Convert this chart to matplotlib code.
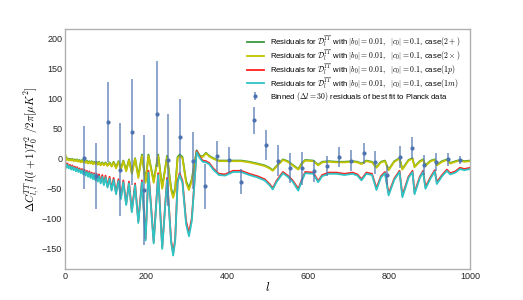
import matplotlib
matplotlib.use('Agg')
import matplotlib.pyplot as plt

plt.rcParams['font.family'] = ['Liberation Sans', 'DejaVu Sans']
plt.rcParams['mathtext.fontset'] = 'cm'

# multipole grid shared by the four model residual curves
ell = [1, 3, 6, 9, 12, 15, 18, 21, 24, 27, 30, 33, 36, 39, 42, 45, 48, 51, 54, 57,
       60, 63, 66, 69, 72, 75, 78, 81, 84, 88, 92, 96, 100, 105, 110, 115, 120, 126,
       132, 138, 144, 151, 158, 165, 173, 181, 190, 199, 206, 219, 230, 240, 252, 262,
       267, 272, 278, 283, 290, 299, 306, 313, 325, 333, 340, 348, 356, 366, 380, 395,
       415, 435, 455, 475, 493, 505, 513, 522, 538, 550, 562, 576, 584, 593, 613, 625,
       635, 651, 670, 690, 710, 722, 732, 744, 758, 769, 780, 790, 799, 813, 826, 833,
       848, 858, 863, 876, 884, 890, 903, 913, 918, 931, 943, 951, 964, 975, 986, 1000]

res_2plus = [4, -2, 0, -3, -1, -3, -1, -4, -2, -4, -2, -5, -3, -6, -3, -6, -4, -7, -4, -8,
             -5, -8, -5, -9, -6, -9, -6, -10, -6, -11, -7, -11, -7, -12, -7, -13, -6, -15,
             -5, -17, -4, -20, -2, -24, 0, -30, 6, -38, 6, -38, 6, -48, 4, -50,
             -62, -50, 2, 6, 2, -38, -50, -35, 13, 4, 3, 9, 4, 0, -4, -4,
             -4, -4, -6, -9, -12, -16, -20, -13, -2, -5, -11, -18, -9, -3, -4, -11,
             -6, -5, -6, -6, -5, -6, -9, -4, -6, -15, -6, -4, -19, -5, 0, -18,
             -3, 0, -14, -5, -2, -12, -4, -2, -11, -5, -2, -8, -5, -3, -5, -4]

res_2times = [5, -3, -1, -4, -2, -4, -2, -5, -3, -5, -3, -6, -4, -7, -4, -7, -5, -8, -5, -9,
              -6, -9, -6, -10, -7, -10, -7, -11, -7, -12, -8, -12, -8, -13, -8, -14, -7, -17,
              -6, -19, -5, -22, -3, -26, -1, -33, 4, -41, 4, -41, 4, -51, 2, -53,
              -66, -53, 0, 4, 0, -41, -53, -38, 11, 3, 2, 8, 3, -1, -5, -5,
              -5, -5, -7, -10, -13, -17, -21, -14, -3, -6, -12, -19, -10, -4, -5, -12,
              -7, -6, -7, -7, -6, -7, -10, -5, -7, -16, -7, -5, -20, -6, -1, -19,
              -4, -1, -15, -6, -3, -13, -5, -3, -12, -6, -3, -9, -6, -4, -6, -5]

res_1p = [-7, -14, -9, -15, -11, -17, -12, -18, -14, -20, -15, -21, -17, -23, -18, -25, -19, -27, -21, -29,
          -22, -31, -24, -33, -25, -35, -26, -37, -27, -40, -28, -43, -29, -47, -31, -52, -33, -58,
          -35, -66, -37, -76, -39, -88, -42, -105, -37, -134, -21, -139, -25, -148, -33, -137,
          -158, -135, -38, -25, -38, -105, -125, -100, 12, 2, -4, -5, -8, -17, -26, -27,
          -21, -21, -26, -30, -35, -43, -50, -38, -23, -29, -37, -51, -37, -23, -24, -38,
          -28, -24, -24, -26, -24, -27, -35, -24, -26, -50, -30, -23, -59, -34, -21, -62,
          -31, -21, -57, -31, -21, -48, -31, -20, -40, -28, -19, -25, -22, -16, -18, -16]

res_1m = [-9, -16, -11, -17, -13, -19, -14, -20, -16, -22, -17, -23, -19, -25, -20, -27, -21, -29, -23, -31,
          -24, -33, -26, -35, -27, -37, -28, -39, -30, -42, -31, -45, -32, -49, -34, -54, -36, -60,
          -38, -68, -40, -78, -42, -90, -45, -108, -40, -137, -24, -142, -28, -151, -36, -140,
          -162, -138, -41, -28, -41, -110, -130, -105, 10, 0, -6, -7, -10, -19, -28, -29,
          -23, -23, -28, -32, -37, -45, -52, -40, -25, -31, -39, -54, -39, -25, -26, -40,
          -30, -26, -26, -28, -26, -29, -37, -26, -28, -53, -32, -25, -62, -36, -23, -65,
          -33, -23, -60, -33, -23, -51, -33, -22, -43, -30, -21, -27, -24, -18, -20, -18]

# binned Planck residuals (delta l = 30)
bin_l = [47, 77, 106, 136, 165, 196, 226, 255, 285, 315, 345, 376, 406, 435, 466, 496,
         526, 556, 586, 616, 646, 677, 706, 737, 766, 796, 827, 857, 886, 915, 946, 975]
bin_res = [1, -30, 60, -19, 43, -53, 74, -3, 36, -4, -47, 4, -3, -39, 63, 22,
           -4, -17, -17, -21, -13, 2, -4, 8, -7, -28, 2, 17, -11, -7, -2, -3]
bin_err = [52, 55, 67, 77, 88, 91, 88, 77, 63, 47, 37, 25, 21, 21, 22, 25,
           26, 25, 27, 18, 17, 17, 17, 18, 19, 17, 19, 19, 17, 15, 11, 7]

label_base = r'Residuals for $\mathcal{D}_l^{TT}$ with $|b_0|=0.01,\ \ |c_0|=0.1$, case'

fig = plt.figure(figsize=(5.23, 3.0), dpi=100)
ax = fig.add_axes([0.1243, 0.1023, 0.7744, 0.801])

ax.plot(ell, res_2plus, color='#3a9a3a', lw=1.3, label=label_base + r'$(2+)$')
ax.plot(ell, res_2times, color='#c4c400', lw=1.3, label=label_base + r'$(2\times)$')
ax.plot(ell, res_1p, color='#ff2020', lw=1.3, label=label_base + r'$(1p)$')
ax.plot(ell, res_1m, color='#2ec4c4', lw=1.3, label=label_base + r'$(1m)$')
ax.errorbar(bin_l, bin_res, yerr=bin_err, fmt='o', ms=2, color='#4c72b0',
            ecolor=(0.30, 0.45, 0.69, 0.75), elinewidth=1.2, capsize=0,
            label=r'Binned $(\Delta l=30)$ residuals of best fit to Planck data')

ax.set_xlim(0, 1000)
ax.set_ylim(-185, 215)
ax.set_xticks([0, 200, 400, 600, 800, 1000])
ax.set_yticks([-150, -100, -50, 0, 50, 100, 150, 200])
ax.tick_params(length=0, labelsize=6.5, colors='#262626', pad=2)
for s in ax.spines.values():
    s.set_color('#b0b0b0')
    s.set_linewidth(1.0)

ax.set_xlabel(r'$l$', fontsize=9, labelpad=0)
ax.set_ylabel(r'$\Delta C_{l,l}^{TT}\,l(l+1)T_0^2\ /2\pi[\mu K^2]$', fontsize=8, labelpad=1)

ax.legend(loc='upper right', bbox_to_anchor=(0.99, 1.0), frameon=False, fontsize=5.6,
          handlelength=2.2, labelspacing=-0.15, borderaxespad=0.3)

fig.savefig('out.png', dpi=100)
